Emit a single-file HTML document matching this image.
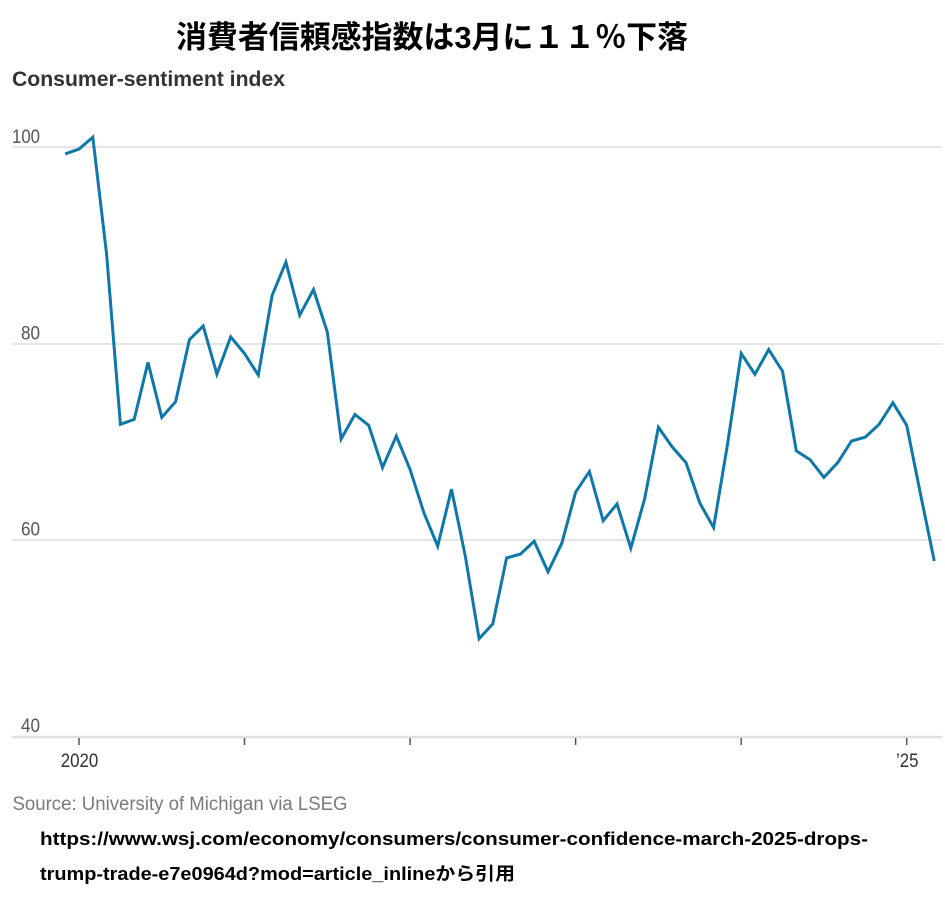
<!DOCTYPE html>
<html>
<head>
<meta charset="utf-8">
<style>
  html,body{margin:0;padding:0;background:#fff;}
  body{width:945px;height:903px;overflow:hidden;}
  svg{display:block;}
</style>
</head>
<body>
<svg width="945" height="903" viewBox="0 0 945 903" xmlns="http://www.w3.org/2000/svg">
  <rect width="945" height="903" fill="#fff"/>
  <!-- Title -->
  <text x="176" y="48" font-family="'Liberation Sans','Noto Sans CJK JP',sans-serif" font-weight="bold" font-size="31" fill="#000" textLength="512" lengthAdjust="spacingAndGlyphs">消費者信頼感指数は3月に１１％下落</text>
  <!-- Subtitle -->
  <text x="12" y="86" font-family="'Liberation Sans',sans-serif" font-weight="bold" font-size="21" fill="#333" textLength="273" lengthAdjust="spacingAndGlyphs">Consumer-sentiment index</text>

  <!-- Gridlines -->
  <g stroke="#e6e6e6" stroke-width="2">
    <line x1="12" y1="147" x2="942" y2="147"/>
    <line x1="12" y1="344" x2="942" y2="344"/>
    <line x1="12" y1="540" x2="942" y2="540"/>
  </g>
  <line x1="12" y1="737" x2="942" y2="737" stroke="#e0e0e0" stroke-width="2.5"/>

  <!-- Y labels -->
  <g font-family="'Liberation Sans',sans-serif" font-size="19" fill="#555" text-anchor="end">
    <text x="40" y="143" textLength="28" lengthAdjust="spacingAndGlyphs">100</text>
    <text x="40" y="339.5" textLength="19" lengthAdjust="spacingAndGlyphs">80</text>
    <text x="40" y="535.5" textLength="19" lengthAdjust="spacingAndGlyphs">60</text>
    <text x="40" y="732" textLength="19" lengthAdjust="spacingAndGlyphs">40</text>
  </g>

  <!-- Ticks -->
  <g stroke="#555" stroke-width="1.5">
    <line x1="79" y1="738" x2="79" y2="745"/>
    <line x1="244.5" y1="738" x2="244.5" y2="745"/>
    <line x1="410.1" y1="738" x2="410.1" y2="745"/>
    <line x1="575.6" y1="738" x2="575.6" y2="745"/>
    <line x1="741.2" y1="738" x2="741.2" y2="745"/>
    <line x1="906.7" y1="738" x2="906.7" y2="745"/>
  </g>
  <!-- X labels -->
  <g font-family="'Liberation Sans',sans-serif" font-size="19" fill="#333">
    <text x="60.7" y="767" textLength="37.6" lengthAdjust="spacingAndGlyphs">2020</text>
    <text x="896" y="767" textLength="22.5" lengthAdjust="spacingAndGlyphs">’25</text>
  </g>

  <!-- Data line -->
  <polyline fill="none" stroke="#0f78a8" stroke-width="3" stroke-linejoin="miter" stroke-miterlimit="4" points="
65.2,153.9 79.0,149.0 92.8,137.2 106.6,254.2 120.4,424.3 134.2,419.4 148.0,362.4 161.8,417.4 175.6,401.7 189.4,339.7 203.2,326.0 216.9,374.2 230.7,336.8
244.5,353.5 258.3,375.1 272.1,295.5 285.9,262.1 299.7,315.2 313.5,289.6 327.3,331.9 341.1,439.1 354.9,414.5 368.7,425.3 382.5,467.6 396.3,436.1
410.1,469.5 423.9,512.8 437.7,546.2 451.5,489.2 465.3,556.1 479.1,638.7 492.8,623.9 506.6,558.0 520.4,554.1 534.2,541.3 548.0,571.8 561.8,543.3
575.6,492.2 589.4,471.5 603.2,520.7 617.0,504.0 630.8,548.2 644.6,499.0 658.4,427.3 672.2,446.9 686.0,462.7 699.8,503.0 713.6,527.6 727.4,445.0
741.2,353.5 754.9,374.2 768.7,349.6 782.5,371.2 796.3,450.9 810.1,459.7 823.9,477.4 837.7,462.7 851.5,441.0 865.3,437.1 879.1,424.3 892.9,402.7
906.7,425.3 920.5,494.1 934.3,561.0"/>

  <!-- Source -->
  <text x="12.5" y="810" font-family="'Liberation Sans',sans-serif" font-size="19" fill="#7a7a7a" textLength="335" lengthAdjust="spacingAndGlyphs">Source: University of Michigan via LSEG</text>

  <!-- URL lines -->
  <g font-family="'Liberation Sans','Noto Sans CJK JP',sans-serif" font-weight="bold" font-size="18" fill="#000">
    <text x="40" y="845" textLength="828" lengthAdjust="spacingAndGlyphs">https://www.wsj.com/economy/consumers/consumer-confidence-march-2025-drops-</text>
    <text x="40" y="880" textLength="475" lengthAdjust="spacingAndGlyphs">trump-trade-e7e0964d?mod=article_inlineから引用</text>
  </g>
</svg>
</body>
</html>
